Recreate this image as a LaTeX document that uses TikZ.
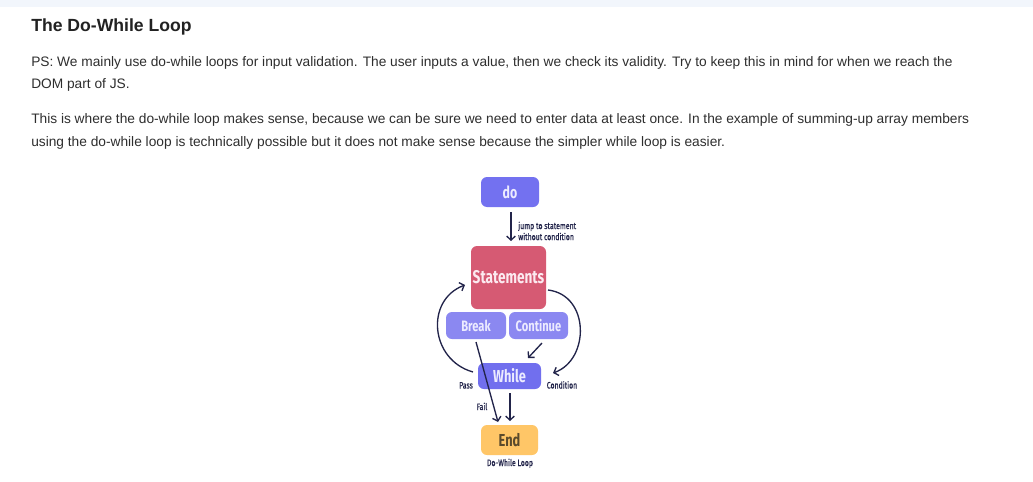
\documentclass[tikz,border=0pt]{standalone}
\usepackage{fontspec}
\setmainfont{Liberation Sans}
\newfontfamily\dfont[FakeStretch=0.74]{Fira Sans}
\newfontfamily\sfont[FakeStretch=0.74,FakeBold=0.6]{Fira Sans}
\usetikzlibrary{arrows.meta}
\definecolor{strip}{HTML}{F2F6FC}
\definecolor{txt}{HTML}{2E2E2E}
\definecolor{ttl}{HTML}{222222}
\definecolor{dopurple}{HTML}{7371F0}
\definecolor{lightpurple}{HTML}{8B88F1}
\definecolor{whilepurple}{HTML}{716FEE}
\definecolor{stmred}{HTML}{D65A73}
\definecolor{endyellow}{HTML}{FFC667}
\definecolor{lav}{HTML}{ECEBFF}
\definecolor{pinkw}{HTML}{FCEAF0}
\definecolor{brown}{HTML}{5A4A2C}
\definecolor{navy}{HTML}{22244A}
\tikzset{
  line/.style={anchor=base west, text=txt, font=\fontsize{10.3pt}{12pt}\selectfont, inner sep=0pt},
  box/.style={rounded corners=4.5pt, inner sep=0pt, font=\dfont\bfseries},
  arr/.style={draw=navy, line width=1pt, -{Straight Barb[length=3pt,width=6.5pt,line width=1pt]}},
  small/.style={text=navy, inner sep=0pt, font=\sfont\fontsize{7pt}{8.3pt}\selectfont},
}
\begin{document}
\begin{tikzpicture}[x=0.75pt,y=-0.75pt]
\useasboundingbox (0,0) rectangle (1033,482);
\fill[white] (0,0) rectangle (1033,482);
\fill[strip] (0,0) rectangle (1033,7);
% texts
\node[anchor=base west, text=ttl, inner sep=0pt, font=\bfseries\fontsize{13.2pt}{16pt}\selectfont] (title) at (31,31.5) {The Do-While Loop};
\node[line] (l1) at (31,66) {PS: We mainly use do-while loops for input validation. The user inputs a value, then we check its validity. Try to keep this in mind for when we reach the};
\node[line] (l2) at (31,88) {DOM part of JS.};
\node[line] (l3) at (31,123.5) {This is where the do-while loop makes sense, because we can be sure we need to enter data at least once. In the example of summing-up array members};
\node[line] (l4) at (31,146) {using the do-while loop is technically possible but it does not make sense because the simpler while loop is easier.};
% boxes
\node[box, fill=dopurple, text=lav, minimum width=43.5pt, minimum height=22.5pt, font=\dfont\bfseries\fontsize{12.5pt}{14pt}\selectfont] (do) at (510,192) {do};
\node[box, fill=stmred, text=pinkw, minimum width=56.25pt, minimum height=47.25pt, font=\dfont\bfseries\fontsize{13.8pt}{15pt}\selectfont] (stm) at (508.5,277.5) {Statements};
\node[box, fill=lightpurple, text=lav, minimum width=45pt, minimum height=20.25pt, font=\dfont\bfseries\fontsize{11.3pt}{13pt}\selectfont] (brk) at (476,325.5) {Break};
\node[box, fill=lightpurple, text=lav, minimum width=44.25pt, minimum height=20.25pt, font=\dfont\bfseries\fontsize{11.3pt}{13pt}\selectfont] (cont) at (538.5,325.5) {Continue};
\node[box, fill=whilepurple, text=lav, minimum width=47.25pt, minimum height=19.5pt, font=\dfont\bfseries\fontsize{13pt}{14pt}\selectfont] (wh) at (509.5,376) {While};
\node[box, fill=endyellow, text=brown, minimum width=42.75pt, minimum height=22.5pt, font=\dfont\bfseries\fontsize{13pt}{14pt}\selectfont] (end) at (509.5,440) {End};
% labels
\node[small, anchor=west, align=left] (jump) at (518,231) {jump to statement\\without condition};
\node[small, anchor=base] (pass) at (466,388.5) {Pass};
\node[small, anchor=base] (cond) at (562,388.5) {Condition};
\node[small, anchor=base] (fail) at (482,410) {Fail};
\node[small, anchor=base] (cap) at (510,466) {Do-While Loop};
% connector end points
\coordinate (doS) at (511,212);
\coordinate (stmN) at (511,241);
\coordinate (passS) at (473,372);
\coordinate (stmW) at (465,285);
\coordinate (stmE) at (548,290);
\coordinate (whE) at (553,373);
\coordinate (contS) at (542,343);
\coordinate (whNE) at (528,358);
\coordinate (brkS) at (476,342);
\coordinate (endNW) at (498,422);
\coordinate (whS) at (510,393);
\coordinate (endN) at (510,421);
% connectors
\draw[arr] (doS) -- (stmN);
\draw[arr] (passS) .. controls (430,360) and (425,300) .. (stmW);
\draw[arr] (stmE) .. controls (590,295) and (590,360) .. (whE);
\draw[arr] (contS) -- (whNE);
\draw[arr] (brkS) -- (endNW);
\draw[arr] (whS) -- (endN);
\end{tikzpicture}
\end{document}
